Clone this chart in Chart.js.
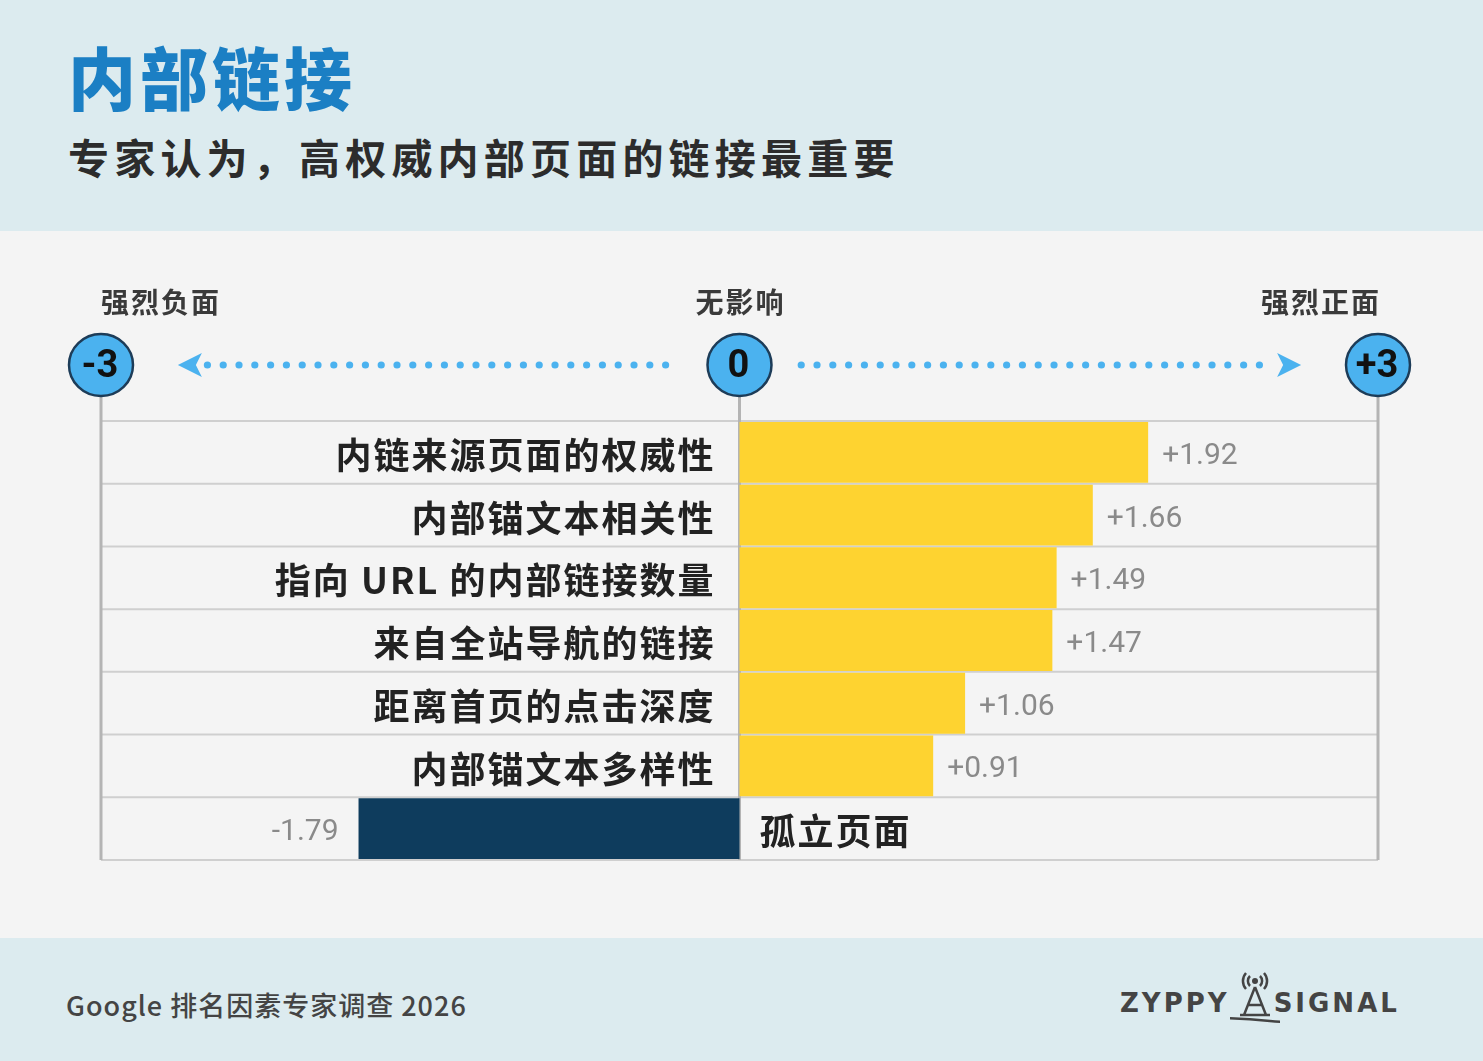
<!DOCTYPE html>
<html><head><meta charset="utf-8">
<script src="https://cdn.jsdelivr.net/npm/chart.js@4.4.1/dist/chart.umd.min.js"></script>
<style>
body{margin:0;width:1483px;height:1061px;overflow:hidden;font-family:"Noto Sans CJK SC","Noto Sans",sans-serif;background:#f4f4f4;position:relative}
.top{position:absolute;left:0;top:0;width:1483px;height:231px;background:#dcebef}
.bot{position:absolute;left:0;top:938px;width:1483px;height:123px;background:#dcebef}
h1{position:absolute;left:68px;top:42px;margin:0;font-size:68px;line-height:1;color:#1b7fc4;font-weight:900;letter-spacing:4px}
h2{position:absolute;left:68px;top:132px;margin:0;font-size:41px;line-height:1.2;color:#2c2c2c;font-weight:700;letter-spacing:5.2px}
.src{position:absolute;left:66px;top:985px;font-size:27px;color:#444;font-weight:500;letter-spacing:1px}
.logo{position:absolute;left:1120px;top:988px;font-family:"DejaVu Sans",sans-serif;font-size:26px;letter-spacing:3px;color:#444;font-weight:700}
#wrap{position:absolute;left:0;top:0;width:1483px;height:1061px}
</style></head><body>
<div class="top"></div><div class="bot"></div>
<h1>内部链接</h1>
<h2>专家认为，高权威内部页面的链接最重要</h2>
<div class="src">Google 排名因素专家调查 2026</div>
<div class="logo">ZYPPY<span style="display:inline-block;width:44px"></span>SIGNAL</div>
<svg style="position:absolute;left:1230px;top:965px" width="50" height="70" viewBox="0 0 50 70">
<g fill="none" stroke="#444" stroke-width="2.5">
<path d="M16 8 a12 12 0 0 0 0 16 M34 8 a12 12 0 0 1 0 16 M20 11 a7 7 0 0 0 0 10 M30 11 a7 7 0 0 1 0 10"/>
<path d="M25 22 L14 50 M25 22 L36 50 M18 40 L32 40 M10 50 L40 50"/>
<path d="M-110 62 Q-40 48 40 56 Q80 60 120 50"/>
</g><circle cx="25" cy="16" r="3" fill="#444"/></svg>
<div id="wrap"><canvas id="c"></canvas></div>
<script>
const categories = ['内链来源页面的权威性','内部锚文本相关性','指向 URL 的内部链接数量','来自全站导航的链接','距离首页的点击深度','内部锚文本多样性','孤立页面'];
const values = [1.92, 1.66, 1.49, 1.47, 1.06, 0.91, -1.79];
const axisTicks = [-3, 0, 3];
const axisTickLabels = ['-3', '0', '+3'];
const axisTitles = ['强烈负面', '无影响', '强烈正面'];

const font = '"Noto Sans CJK SC","Noto Sans",sans-serif';
const blue = '#4bb2ef';

const decor = {
  id: 'decor',
  beforeDatasetsDraw(chart) {
    const {ctx, chartArea: a, scales: {x}} = chart;
    ctx.save();
    ctx.strokeStyle = '#cfcfcf'; ctx.lineWidth = 2;
    const step = (a.bottom - a.top) / categories.length;
    for (let i = 0; i <= categories.length; i++) {
      const yy = a.top + i * step;
      ctx.beginPath(); ctx.moveTo(a.left, yy); ctx.lineTo(a.right, yy); ctx.stroke();
    }
    ctx.strokeStyle = '#b4b4b4'; ctx.lineWidth = 3;
    axisTicks.forEach(t => {
      const xx = x.getPixelForValue(t);
      ctx.beginPath(); ctx.moveTo(xx, 365); ctx.lineTo(xx, a.bottom); ctx.stroke();
    });
    ctx.restore();
  },
  afterDatasetsDraw(chart) {
    const {ctx, scales: {x}} = chart;
    const meta = chart.getDatasetMeta(0);
    const x0 = x.getPixelForValue(0);
    ctx.save();
    ctx.textBaseline = 'middle';
    meta.data.forEach((bar, i) => {
      const v = values[i];
      ctx.font = `bold 36px ${font}`; ctx.fillStyle = '#222'; ctx.letterSpacing = '2px';
      if (v >= 0) {
        ctx.textAlign = 'right'; ctx.fillText(categories[i], x0 - 24, bar.y + 3);
        ctx.letterSpacing = '0px';
        ctx.font = `30px "Roboto",sans-serif`; ctx.fillStyle = '#8a8a8a'; ctx.textAlign = 'left';
        ctx.fillText('+' + v.toFixed(2), bar.x + 14, bar.y + 4);
      } else {
        ctx.textAlign = 'left'; ctx.fillText(categories[i], x0 + 20, bar.y + 3);
        ctx.letterSpacing = '0px';
        ctx.font = `30px "Roboto",sans-serif`; ctx.fillStyle = '#8a8a8a'; ctx.textAlign = 'right';
        ctx.fillText(v.toFixed(2), bar.x - 20, bar.y + 4);
      }
    });
    const cy = 365;
    ctx.fillStyle = blue;
    const dots = (from, to) => { for (let xx = from; xx <= to; xx += 15.8) { ctx.beginPath(); ctx.arc(xx, cy, 3.6, 0, Math.PI * 2); ctx.fill(); } };
    dots(x.getPixelForValue(-2.5), x.getPixelForValue(-0.28));
    dots(x.getPixelForValue(0.29), x.getPixelForValue(2.5));
    const xl = x.getPixelForValue(-2.62), xr = x.getPixelForValue(2.62);
    ctx.beginPath(); ctx.moveTo(xl - 4, cy); ctx.lineTo(xl + 20, cy - 12); ctx.lineTo(xl + 14, cy); ctx.lineTo(xl + 20, cy + 12); ctx.closePath(); ctx.fill();
    ctx.beginPath(); ctx.moveTo(xr + 4, cy); ctx.lineTo(xr - 20, cy - 12); ctx.lineTo(xr - 14, cy); ctx.lineTo(xr - 20, cy + 12); ctx.closePath(); ctx.fill();
    axisTicks.forEach((t, i) => {
      const xx = x.getPixelForValue(t);
      ctx.beginPath(); ctx.ellipse(xx, cy, 32, 31, 0, 0, Math.PI * 2);
      ctx.fillStyle = blue; ctx.fill();
      ctx.lineWidth = 2.5; ctx.strokeStyle = '#1d3c58'; ctx.stroke();
      ctx.fillStyle = '#111'; ctx.font = `bold 38px "Roboto",sans-serif`; ctx.textAlign = 'center';
      ctx.fillText(axisTickLabels[i], xx - 1, cy + 2);
      ctx.font = `bold 28px ${font}`; ctx.fillStyle = '#3a3a3a'; ctx.letterSpacing = '2px';
      const tx = i === 0 ? xx + 60 : (i === 2 ? xx - 57 : xx + 1);
      ctx.fillText(axisTitles[i], tx, 302);
      ctx.letterSpacing = '0px';
    });
    ctx.restore();
  }
};

new Chart(document.getElementById('c'), {
  type: 'bar',
  data: {
    labels: categories,
    datasets: [{
      data: values,
      backgroundColor: values.map(v => v >= 0 ? '#fed330' : '#0e3c5d'),
      borderWidth: 0,
      categoryPercentage: 1,
      barPercentage: 0.97
    }]
  },
  options: {
    indexAxis: 'y',
    responsive: true,
    maintainAspectRatio: false,
    animation: false,
    layout: { padding: { left: 101, right: 105, top: 421, bottom: 201 } },
    scales: {
      x: { display: false, min: -3, max: 3 },
      y: { display: false }
    },
    plugins: { legend: { display: false }, tooltip: { enabled: false } }
  },
  plugins: [decor]
});
</script>
</body></html>
